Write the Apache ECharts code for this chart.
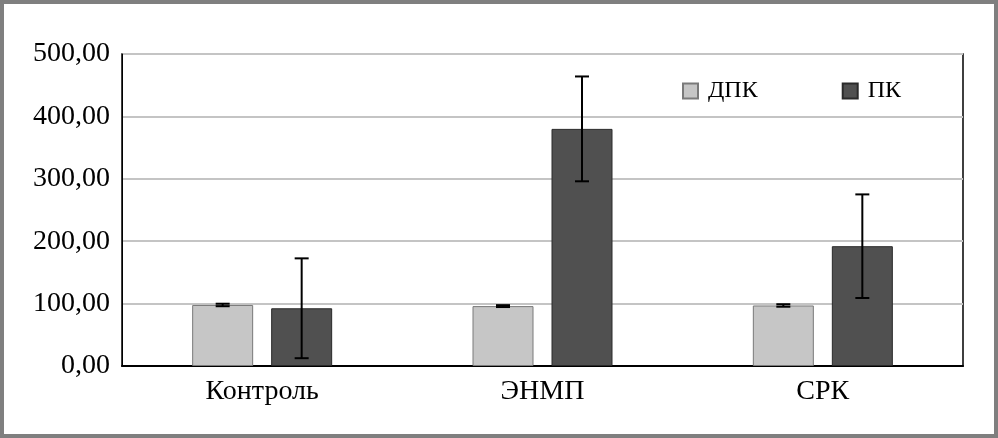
<!DOCTYPE html>
<html><head><meta charset="utf-8">
<script src="https://cdn.jsdelivr.net/npm/echarts@6/dist/echarts.min.js"></script>
<style>
html,body{margin:0;padding:0;background:#fff;}
#frame{width:998px;height:438px;box-sizing:border-box;border:4px solid #7f7f7f;position:relative;}
#chart{position:absolute;left:-4px;top:-4px;width:998px;height:438px;}
</style></head>
<body><div id="frame"><div id="chart"></div></div>
<script>
const categories = ['Контроль', 'ЭНМП', 'СРК'];
const seriesNames = ['ДПК', 'ПК'];
const dpk = [97.8, 96, 97];
const dpkErr = [2, 1.5, 2];
const pk = [92.5, 380, 192];
const pkErr = [80, 84, 83];
const yTicks = [0, 100, 200, 300, 400, 500];

const BAR_W = 61, BAR_GAP = 18;
const font = '"Liberation Serif","Times New Roman",serif';

function errSeries(vals, errs, side) {
  return {
    type: 'custom',
    silent: true,
    z: 10,
    data: vals.map((v, i) => [i, v, errs[i]]),
    renderItem: function (params, api) {
      const i = api.value(0), v = api.value(1), e = api.value(2);
      const off = side * (BAR_W + BAR_GAP) / 2;
      const top = api.coord([i, v + e]);
      const bot = api.coord([i, v - e]);
      const x = top[0] + off;
      const cap = 7;
      const st = { stroke: '#000', lineWidth: 2 };
      return {
        type: 'group',
        children: [
          { type: 'line', shape: { x1: x, y1: top[1], x2: x, y2: bot[1] }, style: st },
          { type: 'line', shape: { x1: x - cap, y1: top[1], x2: x + cap, y2: top[1] }, style: st },
          { type: 'line', shape: { x1: x - cap, y1: bot[1], x2: x + cap, y2: bot[1] }, style: st }
        ]
      };
    }
  };
}

const chart = echarts.init(document.getElementById('chart'));
chart.setOption({
  animation: false,
  backgroundColor: 'transparent',
  grid: { left: 122, right: 35, top: 54, bottom: 72, show: true, borderColor: '#000', borderWidth: 1.5, backgroundColor: 'transparent' },
  legend: {
    data: seriesNames,
    left: 682, top: 78, padding: 0,
    itemWidth: 15, itemHeight: 15, itemGap: 84,
    textStyle: { fontFamily: font, fontSize: 24, color: '#000', lineHeight: 24, padding: [2, 0, 0, 5] },
    icon: 'rect'
  },
  xAxis: {
    type: 'category',
    data: categories,
    axisLine: { lineStyle: { color: '#000', width: 2 } },
    axisTick: { show: false },
    axisLabel: { fontFamily: font, fontSize: 28, color: '#000', margin: 12 },
    splitLine: { show: false }
  },
  yAxis: {
    type: 'value',
    min: 0, max: 500, interval: 100,
    axisLine: { show: true, lineStyle: { color: '#000', width: 1 } },
    axisTick: { show: false },
    axisLabel: {
      fontFamily: font, fontSize: 28, color: '#000', margin: 12,
      formatter: v => yTicks.includes(v) ? v.toFixed(2).replace('.', ',') : ''
    },
    splitLine: { lineStyle: { color: '#c4c4c4', width: 2 } }
  },
  series: [
    {
      name: seriesNames[0], type: 'bar', data: dpk, barWidth: BAR_W, barGap: (BAR_GAP / BAR_W * 100) + '%',
      itemStyle: { color: '#c6c6c6', borderColor: '#7a7a7a', borderWidth: 1 }
    },
    {
      name: seriesNames[1], type: 'bar', data: pk, barWidth: BAR_W,
      itemStyle: { color: '#505050', borderColor: '#2a2a2a', borderWidth: 1 }
    },
    errSeries(dpk, dpkErr, -1),
    errSeries(pk, pkErr, 1)
  ]
});
</script></body></html>
